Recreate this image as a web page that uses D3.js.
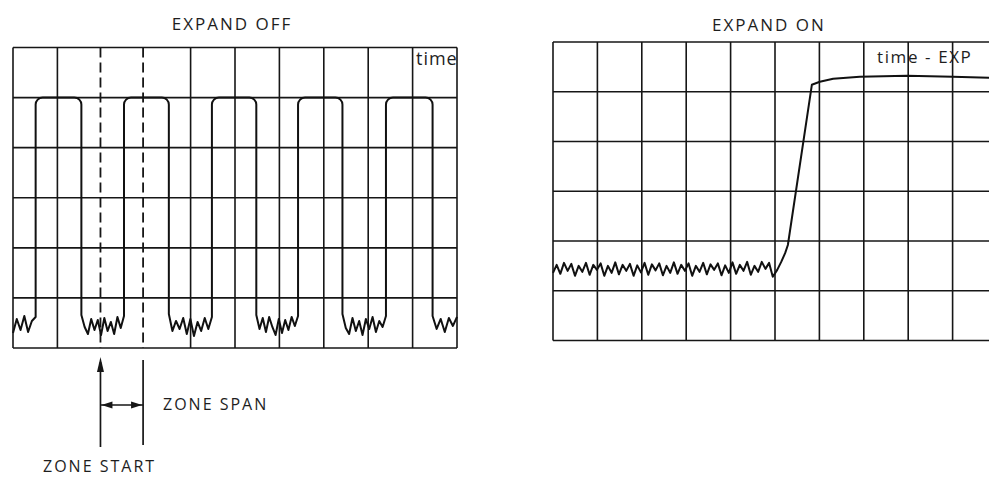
<!DOCTYPE html>
<html>
<head>
<meta charset="utf-8">
<script src="https://cdn.jsdelivr.net/npm/d3@7"></script>
<style>
  body { margin: 0; background: #fff; }
  svg { display: block; }
  .lbl { font-family: "Open Sans", sans-serif; fill: #1e1e1e; letter-spacing: 2px; }
</style>
</head>
<body>
<div id="chart"></div>
<script>
"use strict";
// --- data, in screen divisions (10 x 6 graticule) ---
const leftRises = [0.51, 2.50, 4.48, 6.42, 8.40];
const leftFalls = [1.54, 3.51, 5.48, 7.42, 9.45];
const pulseHigh = 5;
// low-level noise of each gap between pulses
const leftNoise = [
    [0.30, 0.58, 0.36, 0.64, 0.32, 0.54, 0.62],
    [0.66, 0.42, 0.28, 0.58, 0.36, 0.56, 0.26, 0.60, 0.34, 0.52, 0.28, 0.62, 0.40, 0.64],
    [0.68, 0.34, 0.54, 0.38, 0.60, 0.28, 0.58, 0.24, 0.52, 0.34, 0.60, 0.38, 0.62],
    [0.66, 0.38, 0.60, 0.32, 0.62, 0.42, 0.26, 0.58, 0.30, 0.56, 0.36, 0.62, 0.44, 0.64],
    [0.68, 0.40, 0.28, 0.60, 0.34, 0.54, 0.26, 0.58, 0.38, 0.62, 0.32, 0.54, 0.42, 0.64],
    [0.64, 0.38, 0.58, 0.32, 0.60, 0.44, 0.62]
];
const zoneStart = 1.97;
const zoneEnd = 2.93;

const rightNoiseEnd = 4.95;
const rightNoise = [1.36, 1.52, 1.34, 1.56, 1.40, 1.54, 1.30, 1.50, 1.38, 1.56, 1.32, 1.52, 1.42, 1.55,
    1.30, 1.50, 1.36, 1.57, 1.33, 1.52, 1.40, 1.54, 1.30, 1.51, 1.37, 1.56, 1.32, 1.53, 1.41, 1.55,
    1.31, 1.50, 1.36, 1.57, 1.34, 1.52, 1.40, 1.55, 1.30, 1.50, 1.38, 1.56, 1.33, 1.53, 1.42, 1.55,
    1.31, 1.51, 1.36, 1.57, 1.34, 1.52, 1.40, 1.58, 1.32, 1.50, 1.38, 1.58, 1.44, 1.56, 1.28];
const rightRise = [[4.95, 1.28], [5.05, 1.42], [5.14, 1.58], [5.23, 1.76], [5.29, 1.92], [5.83, 5.14],
    [6.01, 5.20], [6.31, 5.26], [6.91, 5.30], [7.97, 5.32], [9.0, 5.30], [9.82, 5.28], [10.0, 5.26]];

const titles = ["EXPAND OFF", "EXPAND ON"];
const timeLabels = ["time", "time - EXP"];
const zoneLabels = ["ZONE SPAN", "ZONE START"];

// --- canvas ---
const W = 989, H = 479;
const svg = d3.select("#chart").append("svg")
    .attr("width", W)
    .attr("height", H);

// scales for the two screens
const xL = d3.scaleLinear().domain([0, 10]).range([13, 457]);
const yL = d3.scaleLinear().domain([0, 6]).range([348, 47.5]);
const xR = d3.scaleLinear().domain([0, 10]).range([553, 997]);
const yR = d3.scaleLinear().domain([0, 6]).range([340.5, 42]);

let drawGrid = function (x, y, skipX) {
    let g = svg.append("g").attr("class", "grid")
        .attr("stroke", "#161616")
        .attr("stroke-width", 1.6)
        .attr("fill", "none");
    g.selectAll(".vline")
        .data(d3.range(0, 11).filter(d => skipX.indexOf(d) < 0))
        .enter().append("line")
        .attr("x1", d => x(d)).attr("x2", d => x(d))
        .attr("y1", y(6)).attr("y2", y(0));
    g.selectAll(".hline")
        .data(d3.range(0, 7))
        .enter().append("line")
        .attr("x1", x(0)).attr("x2", x(10))
        .attr("y1", d => y(d)).attr("y2", d => y(d));
    return g;
};

drawGrid(xL, yL, [2, 3]);
drawGrid(xR, yR, []);

// zone markers (dashed)
svg.append("g")
    .selectAll("line")
    .data([zoneStart, zoneEnd])
    .enter().append("line")
    .attr("x1", d => xL(d)).attr("x2", d => xL(d))
    .attr("y1", yL(6)).attr("y2", yL(0))
    .attr("stroke", "#161616")
    .attr("stroke-width", 1.8)
    .attr("stroke-dasharray", "10,5");

// Left trace: pulse train
const r = 7;
let segs = [[0, leftRises[0]]];
for (let i = 0; i < leftFalls.length; i++) {
    segs.push([leftFalls[i], i + 1 < leftRises.length ? leftRises[i + 1] : 10]);
}
let p = d3.path();
segs.forEach(function (s, i) {
    let vals = leftNoise[i];
    vals.forEach(function (v, j) {
        let px = xL(s[0] + (s[1] - s[0]) * j / (vals.length - 1));
        let py = yL(v);
        if (i === 0 && j === 0) p.moveTo(px, py);
        else p.lineTo(px, py);
    });
    if (i < leftRises.length) {
        let xr = xL(leftRises[i]), xf = xL(leftFalls[i]), yh = yL(pulseHigh);
        p.arcTo(xr, yh, xf, yh, r);
        p.arcTo(xf, yh, xf, yL(leftNoise[i + 1][0]), r);
    }
});
svg.append("path")
    .attr("d", p.toString())
    .attr("fill", "none")
    .attr("stroke", "#111")
    .attr("stroke-width", 2)
    .attr("stroke-linejoin", "round");

// Right trace: expanded edge
let rightPts = rightNoise.map((v, j) => [rightNoiseEnd * j / (rightNoise.length - 1), v])
    .concat(rightRise.slice(1));
let line = d3.line()
    .x(d => xR(d[0]))
    .y(d => yR(d[1]));
svg.append("path")
    .attr("d", line(rightPts))
    .attr("fill", "none")
    .attr("stroke", "#111")
    .attr("stroke-width", 2)
    .attr("stroke-linejoin", "round");

// Titles
svg.append("text").attr("class", "lbl")
    .attr("x", 232).attr("y", 30)
    .attr("text-anchor", "middle")
    .attr("font-size", 17)
    .text(titles[0]);
svg.append("text").attr("class", "lbl")
    .attr("x", 769).attr("y", 31)
    .attr("text-anchor", "middle")
    .attr("font-size", 17)
    .text(titles[1]);

// time labels inside screens
svg.append("text").attr("class", "lbl")
    .attr("x", 416).attr("y", 65)
    .attr("font-size", 18)
    .style("letter-spacing", "1px")
    .text(timeLabels[0]);
svg.append("text").attr("class", "lbl")
    .attr("x", 877).attr("y", 63)
    .attr("font-size", 17)
    .style("letter-spacing", "1.6px")
    .text(timeLabels[1]);

// Zone annotation below left screen
let ann = svg.append("g")
    .attr("stroke", "#161616")
    .attr("stroke-width", 1.7);
let xs = xL(zoneStart), xe = xL(zoneEnd);
ann.append("line").attr("x1", xs).attr("x2", xs).attr("y1", 362).attr("y2", 447);
ann.append("line").attr("x1", xe).attr("x2", xe).attr("y1", 360).attr("y2", 445);
ann.append("line").attr("x1", xs).attr("x2", xe).attr("y1", 405).attr("y2", 405);
// arrow heads
let heads = svg.append("g").attr("fill", "#161616");
heads.append("path")
    .attr("d", `M${xs},357 L${xs - 3.5},372 L${xs + 3.5},372 Z`);
heads.append("path")
    .attr("d", `M${xs + 1},405 L${xs + 12},401.5 L${xs + 12},408.5 Z`);
heads.append("path")
    .attr("d", `M${xe - 1},405 L${xe - 12},401.5 L${xe - 12},408.5 Z`);

svg.append("text").attr("class", "lbl")
    .attr("x", 163).attr("y", 410)
    .attr("font-size", 16)
    .text(zoneLabels[0]);
svg.append("text").attr("class", "lbl")
    .attr("x", 43).attr("y", 472)
    .attr("font-size", 16)
    .text(zoneLabels[1]);
</script>
</body>
</html>
